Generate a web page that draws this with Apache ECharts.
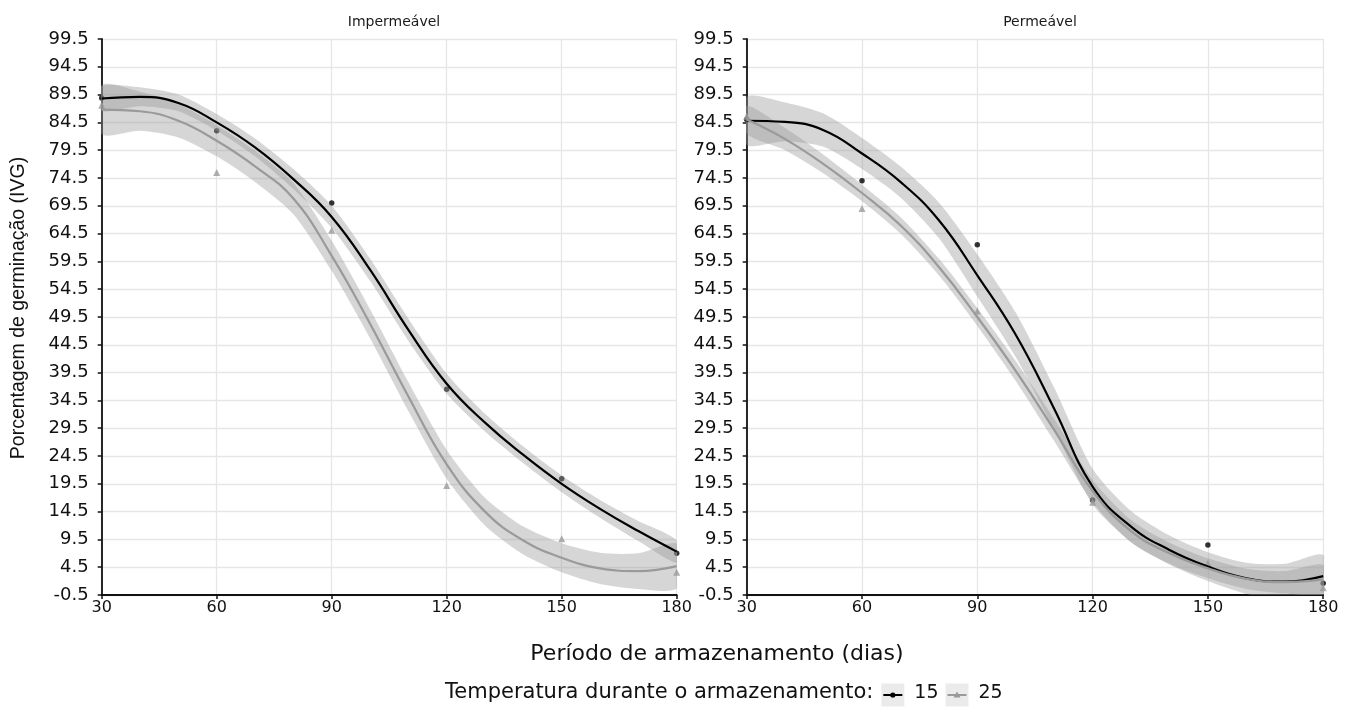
<!DOCTYPE html>
<html><head><meta charset="utf-8">
<script src="https://cdn.jsdelivr.net/npm/echarts@6/dist/echarts.min.js"></script>
<style>html,body{margin:0;padding:0;background:#fff}#c{width:1355px;height:713px}</style>
</head><body><div id="c"></div>
<script>
// ---- data ----
const panels = ['Impermeável', 'Permeável'];
const xPts = [30, 60, 90, 120, 150, 180];
const xFit = [30, 40, 50, 60, 70, 80, 90, 100, 110, 120, 130, 140, 150, 160, 170, 180];
const groups = ['15', '25'];

// Impermeável
const imp15Pts = [88.9, 83.0, 70.0, 36.5, 20.4, 7.0];
const imp25Pts = [87.6, 75.5, 65.1, 19.2, 9.6, 3.6];
const imp15Fit = [88.8, 89.1, 88.0, 84.5, 80.0, 74.3, 67.5, 58.0, 47.2, 37.5, 30.5, 24.7, 19.5, 15.0, 11.0, 7.3];
const imp15Lo  = [86.6, 87.4, 86.5, 83.0, 78.4, 72.5, 65.5, 56.0, 45.2, 35.7, 28.9, 23.2, 18.0, 13.4, 9.2, 5.3];
const imp15Hi  = [91.0, 90.8, 89.5, 86.0, 81.6, 76.1, 69.5, 60.0, 49.2, 39.3, 32.1, 26.2, 21.0, 16.6, 12.8, 9.3];
const imp25Fit = [86.8, 86.5, 84.8, 81.2, 76.6, 70.8, 60.5, 48.3, 35.2, 23.0, 14.5, 9.3, 6.2, 4.3, 3.8, 4.7];
const imp25Lo  = [82.4, 83.0, 81.8, 78.4, 73.8, 68.0, 57.8, 45.7, 32.6, 20.4, 12.0, 6.8, 3.6, 1.5, 0.6, 0.7];
const imp25Hi  = [91.2, 90.0, 87.8, 84.0, 79.4, 73.6, 63.2, 50.9, 37.8, 25.6, 17.0, 11.8, 8.8, 7.1, 7.0, 8.7];

// Permeável
const per15Pts = [85.0, 74.0, 62.5, 16.6, 8.5, 1.6];
const per25Pts = [85.6, 69.0, 50.6, 16.2, 5.2, 0.8];
const per15Fit = [84.8, 84.6, 83.1, 78.9, 73.8, 66.9, 57.0, 46.3, 33.0, 19.0, 11.8, 7.6, 4.6, 2.5, 1.9, 2.9];
const per15Lo  = [80.5, 81.1, 80.1, 76.1, 71.0, 63.7, 53.2, 42.3, 29.2, 15.8, 9.0, 5.0, 2.0, -0.3, -1.3, -0.9];
const per15Hi  = [89.1, 88.1, 86.1, 81.7, 76.6, 70.1, 60.8, 50.3, 36.8, 22.2, 14.6, 10.2, 7.2, 5.3, 5.1, 6.7];
const per25Fit = [85.0, 81.5, 77.0, 71.8, 66.0, 58.5, 49.5, 39.8, 29.2, 18.2, 11.0, 7.0, 4.3, 2.4, 1.8, 2.3];
const per25Lo  = [82.5, 79.5, 75.3, 70.3, 64.5, 57.0, 47.9, 38.0, 27.2, 16.2, 9.0, 5.1, 2.5, 0.6, -0.2, -0.3];
const per25Hi  = [87.5, 83.5, 78.7, 73.3, 67.5, 60.0, 51.1, 41.6, 31.2, 20.2, 13.0, 8.9, 6.1, 4.2, 3.8, 4.9];

// ---- chart ----
const FONT = '"DejaVu Sans", sans-serif';
const FONT2 = '"Liberation Sans", Arial, sans-serif';
const grids = [
  { left: 101.7, width: 575, top: 39, height: 556 },
  { left: 746.7, width: 576.5, top: 39, height: 556 }
];
const BLACK = '#000000', GREY = '#9a9a9a', BAND = 'rgba(153,153,153,0.4)';

function pairs(xs, ys) { return xs.map((x, i) => [x, ys[i]]); }

const series = [];
function addGroup(gi, pts, fit, lo, hi, color, symbol, symSize, key) {
  series.push({ type: 'scatter', name: 'pts' + key, xAxisIndex: gi, yAxisIndex: gi,
    data: pairs(xPts, pts), symbol: symbol, symbolSize: symSize,
    itemStyle: { color: color }, z: 2, silent: true });
  series.push({ type: 'custom', name: 'band' + key, xAxisIndex: gi, yAxisIndex: gi,
    coordinateSystem: 'cartesian2d', clip: true, silent: true, z: 3,
    data: [[xFit[0], fit[0]]],
    renderItem: function (params, api) {
      const up = xFit.map((x, i) => api.coord([x, hi[i]]));
      const dn = xFit.map((x, i) => api.coord([x, lo[i]])).reverse();
      return { type: 'polygon', shape: { points: up.concat(dn), smooth: 0.25 },
        style: { fill: BAND } };
    } });
  series.push({ type: 'line', name: 'fit' + key, xAxisIndex: gi, yAxisIndex: gi,
    data: pairs(xFit, fit), smooth: 0.45, symbol: 'none',
    lineStyle: { color: color, width: 2.2 }, z: 4, silent: true });
}
addGroup(0, imp15Pts, imp15Fit, imp15Lo, imp15Hi, BLACK, 'circle', 5.5, 'i15');
addGroup(0, imp25Pts, imp25Fit, imp25Lo, imp25Hi, GREY, 'triangle', 7, 'i25');
addGroup(1, per15Pts, per15Fit, per15Lo, per15Hi, BLACK, 'circle', 5.5, 'p15');
addGroup(1, per25Pts, per25Fit, per25Lo, per25Hi, GREY, 'triangle', 7, 'p25');

const xAxes = grids.map((g, i) => ({
  type: 'value', gridIndex: i, min: 30, max: 180, interval: 30,
  axisLine: { show: true, onZero: false, lineStyle: { color: '#111', width: 1.8 } },
  axisTick: { show: true, length: 4, lineStyle: { color: '#111', width: 1.5 } },
  axisLabel: { fontFamily: FONT, fontSize: 16, color: '#111', margin: 5 },
  splitLine: { show: true, lineStyle: { color: '#e6e6e6', width: 1.3 } }
}));
const yAxes = grids.map((g, i) => ({
  type: 'value', gridIndex: i, min: -0.5, max: 99.5, interval: 5,
  axisLine: { show: true, lineStyle: { color: '#111', width: 1.8 } },
  axisTick: { show: true, length: 4, lineStyle: { color: '#111', width: 1.5 } },
  axisLabel: { fontFamily: FONT, fontSize: 18, color: '#111', margin: 13,
    formatter: v => v.toFixed(1) },
  splitLine: { show: true, lineStyle: { color: '#e6e6e6', width: 1.3 } }
}));

// legend and axis title (drawn as decoration)
const legText = 'Temperatura durante o armazenamento:';
const LFS = 21;
const cv = document.createElement('canvas').getContext('2d');
cv.font = LFS + 'px "DejaVu Sans", sans-serif';
const wText = cv.measureText(legText).width;
cv.font = (LFS - 2) + 'px "DejaVu Sans", sans-serif';
const wLab = cv.measureText('15').width;
const KEY = 23, GAP1 = 8, GAP2 = 10, GAP3 = 7;
const LX = 445, LY = 695;
const graphics = [];
graphics.push({ type: 'text', x: 19, y: 308, rotation: Math.PI / 2,
  style: { text: 'Porcentagem de germinação (IVG)', font: '19.5px ' + FONT2, fill: '#111', align: 'center', verticalAlign: 'middle' } });
graphics.push({ type: 'text', left: LX, top: LY - LFS * 0.62, style: { text: legText, font: LFS + 'px ' + FONT, fill: '#111' } });
let kx = LX + wText + GAP1;
groups.forEach((g, gi) => {
  const col = gi === 0 ? BLACK : GREY;
  graphics.push({ type: 'rect', shape: { x: kx, y: LY - KEY / 2, width: KEY, height: KEY }, style: { fill: '#ebebeb' } });
  graphics.push({ type: 'line', shape: { x1: kx + 2, y1: LY, x2: kx + KEY - 2, y2: LY }, style: { stroke: col, lineWidth: 2 } });
  if (gi === 0) graphics.push({ type: 'circle', shape: { cx: kx + KEY / 2, cy: LY, r: 2.6 }, style: { fill: col } });
  else graphics.push({ type: 'polygon', shape: { points: [[kx + KEY / 2, LY - 3.5], [kx + KEY / 2 - 3.5, LY + 2.5], [kx + KEY / 2 + 3.5, LY + 2.5]] }, style: { fill: col } });
  graphics.push({ type: 'text', left: kx + KEY + GAP2, top: LY - (LFS - 2) * 0.62, style: { text: g, font: (LFS - 2) + 'px ' + FONT, fill: '#111' } });
  kx += KEY + GAP2 + wLab + GAP3;
});

const option = {
  backgroundColor: '#ffffff',
  animation: false,
  title: [
    { text: panels[0], left: 389, top: 10, textAlign: 'center', textStyle: { fontFamily: FONT, fontSize: 14, fontWeight: 'normal', color: '#1a1a1a' } },
    { text: panels[1], left: 1035, top: 10, textAlign: 'center', textStyle: { fontFamily: FONT, fontSize: 14, fontWeight: 'normal', color: '#1a1a1a' } },
    { text: 'Período de armazenamento (dias)', left: 712, top: 638, textAlign: 'center', textStyle: { fontFamily: FONT, fontSize: 22, fontWeight: 'normal', color: '#111' } }
  ],
  grid: grids,
  xAxis: xAxes,
  yAxis: yAxes,
  series: series,
  graphic: graphics
};
const chart = echarts.init(document.getElementById('c'));
chart.setOption(option);
</script></body></html>
